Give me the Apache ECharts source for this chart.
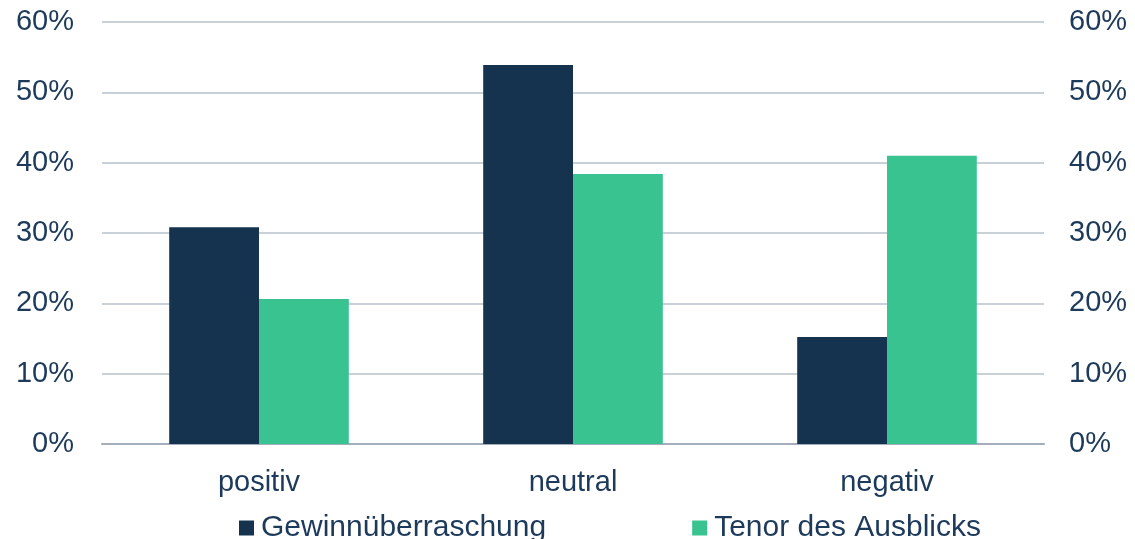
<!DOCTYPE html>
<html><head><meta charset="utf-8">
<script src="https://cdn.jsdelivr.net/npm/echarts@6/dist/echarts.min.js"></script>
<style>html,body{margin:0;padding:0;background:#fff}#c{width:1135px;height:539px}</style>
</head><body><div id="c"></div>
<script>
const categories = ['positiv', 'neutral', 'negativ'];
const seriesNames = ['Gewinnüberraschung', 'Tenor des Ausblicks'];
const gewinn = [30.8, 53.9, 15.2];
const tenor = [20.6, 38.4, 41.0];
const yTicks = [0, 10, 20, 30, 40, 50, 60];

const textColor = '#1D3A5B';
const font = 'Liberation Sans, Arial, sans-serif';
const chart = echarts.init(document.getElementById('c'), null, {renderer: 'canvas'});
const yAxisBase = {
  type: 'value', min: yTicks[0], max: yTicks[yTicks.length - 1], interval: 10,
  axisLine: {show: false}, axisTick: {show: false},
  splitLine: {show: true, lineStyle: {color: '#C9D0D8', width: 2}},
  axisLabel: {formatter: v => v + '%', color: textColor, fontSize: 29, fontFamily: font, padding: [3, 0, 0, 0]}
};
chart.setOption({
  animation: false,
  grid: {left: 102, right: 91, top: 22, bottom: 95, containLabel: false},
  legend: {
    data: seriesNames, top: 508, left: 234, itemGap: 146,
    itemWidth: 15, itemHeight: 15, icon: 'rect',
    textStyle: {color: textColor, fontSize: 30, fontFamily: font, padding: [0, 0, 0, 2]}
  },
  xAxis: {
    type: 'category', data: categories,
    axisLine: {show: true, lineStyle: {color: '#A3ADBB', width: 2}},
    axisTick: {show: false},
    axisLabel: {color: textColor, fontSize: 29, fontFamily: font, margin: 24}
  },
  yAxis: [
    Object.assign({}, yAxisBase, {position: 'left', axisLabel: Object.assign({}, yAxisBase.axisLabel, {margin: 28})}),
    Object.assign({}, yAxisBase, {position: 'right', splitLine: {show: false}, axisLabel: Object.assign({}, yAxisBase.axisLabel, {margin: 25})})
  ],
  series: [
    {name: seriesNames[0], type: 'bar', data: gewinn, barGap: '0%', barCategoryGap: '42.8%', itemStyle: {color: '#15324F'}},
    {name: seriesNames[1], type: 'bar', data: tenor, barGap: '0%', barCategoryGap: '42.8%', itemStyle: {color: '#38C391'}}
  ]
});
</script></body></html>
